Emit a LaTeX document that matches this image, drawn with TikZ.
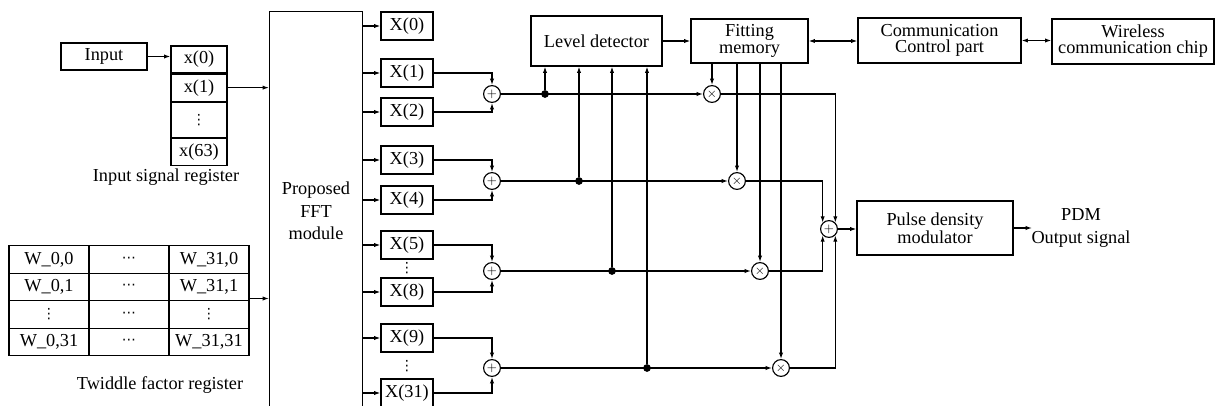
\documentclass[tikz,border=0pt]{standalone}
\usepackage{fontspec}
\setmainfont{Liberation Serif}
\newfontfamily\symfont{DejaVu Sans}
\usepackage{tikz}
\usetikzlibrary{arrows.meta,positioning}
\newcommand\vdts{{\symfont\fontsize{10}{10}\selectfont ⋮}}
\newcommand\hdts{{\symfont\fontsize{10}{10}\selectfont ⋯}}

\begin{document}
\begin{tikzpicture}[
  x=0.025cm, y=-0.025cm,
  line width=0.8pt,
  >={Latex[length=4.5pt,width=3pt]},
  font=\fontsize{13}{11.5}\selectfont,
  blk/.style={draw,align=center,inner sep=2pt},
  cell/.style={draw,minimum width=1.4cm,minimum height=0.675cm,inner sep=0pt},
  xbin/.style={draw,minimum width=1.3cm,minimum height=0.7cm,inner sep=0pt},
  wcell/.style={draw,minimum width=2cm,minimum height=0.6875cm,inner sep=0pt},
  sumop/.style={draw,circle,minimum size=0.42cm,inner sep=0pt,font=\small},
  jdot/.style={circle,fill,minimum size=5.5pt,inner sep=0pt},
  vdt/.style={inner sep=0pt},
]
  \clip (0,0) rectangle (1215,406);

  %% input and input signal register
  \node[blk,minimum width=2.15cm,minimum height=0.675cm](inp) at (104,56.5) {Input};
  \node[cell](r0) at (199,59.5) {x(0)};
  \node[cell,below=0pt of r0](r1) {x(1)};
  \node[cell,below=0pt of r1,minimum height=0.875cm](rd) {\vdts};
  \node[cell,below=0pt of rd](r63) {x(63)};
  \node(regl) at (166,177) {Input signal register};

  %% FFT module (runs past the lower edge)
  \node[draw,minimum width=2.325cm,minimum height=10.5cm,anchor=north west](fft) at (269,11) {};
  \node[align=center,font=\fontsize{13}{16}\selectfont](fftl) at (316,211) {Proposed\\FFT\\module};

  \draw[->](inp.east) -- (inp.east -| r0.west);
  \draw[->](r1.east) -- (r1.east -| fft.west);

  %% twiddle factor register
  \foreach \rw/\ca/\cc in {0/{W\_0,0}/{W\_31,0}, 1/{W\_0,1}/{W\_31,1},
                           2/{\vdts}/{\vdts}, 3/{W\_0,31}/{W\_31,31}}{%
    \node[wcell](wa\rw) at (49,{259.5+27.5*\rw}) {\ca};
    \node[wcell](wb\rw) at (129,{259.5+27.5*\rw}) {\hdts};
    \node[wcell](wc\rw) at (209,{259.5+27.5*\rw}) {\cc};
  }
  \node(twl) at (160,385) {Twiddle factor register};
  \draw[->]([yshift=2pt]wc1.south east) -- ([yshift=2pt]wc1.south east -| fft.west);

  %% FFT outputs
  \foreach \nm/\lbl/\yy in {X0/0/26, X1/1/73, X2/2/112, X3/3/160, X4/4/200,
                            X5/5/245, X8/8/292, X9/9/338, X31/31/393}{%
    \node[xbin](\nm) at (407,\yy) {X(\lbl)};
    \draw[->](\nm.west -| fft.east) -- (\nm.west);
  }
  \node[vdt](vda) at (407,268) {\vdts};
  \node[vdt](vdb) at (407,366) {\vdts};

  %% top row
  \node[blk,minimum width=3.275cm,minimum height=1.25cm](LD) at (596.5,41) {Level detector};
  \node[blk,minimum width=2.925cm,minimum height=1.1cm](FM) at (749.5,41) {Fitting\\memory};
  \node[blk,minimum width=4.075cm,minimum height=1.125cm](CC) at (939.5,40.5) {Communication\\Control part};
  \node[blk,minimum width=4.05cm,minimum height=1.125cm](WC) at (1133,41.5) {Wireless\\communication chip};
  \draw[->](LD.east) -- (LD.east -| FM.west);
  \draw[<->](FM.east) -- (FM.east -| CC.west);
  \draw[<->](CC.east) -- (CC.east -| WC.west);

  %% adders, taps and multipliers
  \foreach \k/\ta/\tb/\xd/\xm/\yy in {1/X1/X2/545/712/94, 2/X3/X4/579/737/181,
                                      3/X5/X8/612/760/271, 4/X9/X31/647/781/368}{%
    \node[sumop](S\k) at (492,\yy) {$+$};
    \draw[->](\ta.east) -| (S\k.north);
    \draw[->](\tb.east) -| (S\k.south);
    \node[jdot](D\k) at (\xd,\yy) {};
    \node[sumop](M\k) at (\xm,\yy) {$\times$};
    \draw[->](S\k) -- (M\k);
    \draw[->](D\k) -- (D\k |- LD.south);
    \draw[->](M\k |- FM.south) -- (M\k);
  }

  %% output stage
  \node[sumop](Sf) at (829,229) {$+$};
  \draw[->](M1) -| (Sf.45);
  \draw[->](M2) -| (Sf.135);
  \draw[->](M3) -| (Sf.-135);
  \draw[->](M4) -| (Sf.-45);
  \node[blk,minimum width=3.9cm,minimum height=1.35cm](PDM) at (935,228) {Pulse density\\modulator};
  \draw[->](Sf.east) -- (Sf.east -| PDM.west);
  \coordinate(outp) at (1032,228);
  \draw[->](PDM.east) -- (PDM.east -| outp);
  \node[align=center,font=\fontsize{13}{17}\selectfont](outl) at (1081,228) {PDM\\Output signal};
\end{tikzpicture}
\end{document}
